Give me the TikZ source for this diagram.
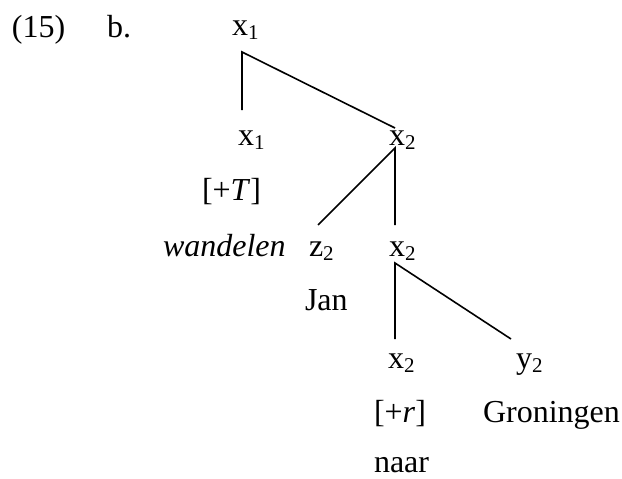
\documentclass[tikz,border=0pt]{standalone}
\usepackage{fontspec}
\setmainfont{Liberation Serif}
\newcommand{\subidx}[1]{\raisebox{-4pt}{\fontsize{21}{21}\selectfont #1}}
\begin{document}
\begin{tikzpicture}[x=1pt,y=-1pt,
  lbl/.style={anchor=base west,inner sep=0pt,outer sep=0pt,font=\fontsize{32}{38}\selectfont},
  edge/.style={line width=1.6pt}]
\useasboundingbox (0,0) rectangle (622,479);
\node[lbl] (num) at (12,37) {(15)};
\node[lbl] (b) at (107,37) {b.};
\node[lbl] (xa) at (232,35) {x\subidx{1}};
\node[lbl] (xb) at (238,145) {x\subidx{1}};
\node[lbl] (xc) at (389,145) {x\subidx{2}};
\node[lbl] (T) at (202,200) {[+\textit{T}]};
\node[lbl] (wand) at (163,256) {\textit{wandelen}};
\node[lbl] (z) at (309,256) {z\subidx{2}};
\node[lbl] (xd) at (389,256) {x\subidx{2}};
\node[lbl] (jan) at (305,310) {Jan};
\node[lbl] (xe) at (388,368) {x\subidx{2}};
\node[lbl] (y) at (516,368) {y\subidx{2}};
\node[lbl] (r) at (374,422) {[+\textit{r}]};
\node[lbl] (gron) at (483,422) {Groningen};
\node[lbl] (naar) at (374,472) {naar};
% connector ends
\coordinate (xaB) at (242,52);
\coordinate (xbT) at (242,110);
\coordinate (xcT) at (395,128);
\coordinate (xcB) at (395,148);
\coordinate (zT) at (318,225);
\coordinate (xdT) at (395,225);
\coordinate (xdB) at (395,263);
\coordinate (xeT) at (395,339);
\coordinate (yT) at (511,339);
\draw[edge] (xbT) -- (xaB) -- (xcT);
\draw[edge] (zT) -- (xcB) -- (xdT);
\draw[edge] (xeT) -- (xdB) -- (yT);
\end{tikzpicture}
\end{document}
